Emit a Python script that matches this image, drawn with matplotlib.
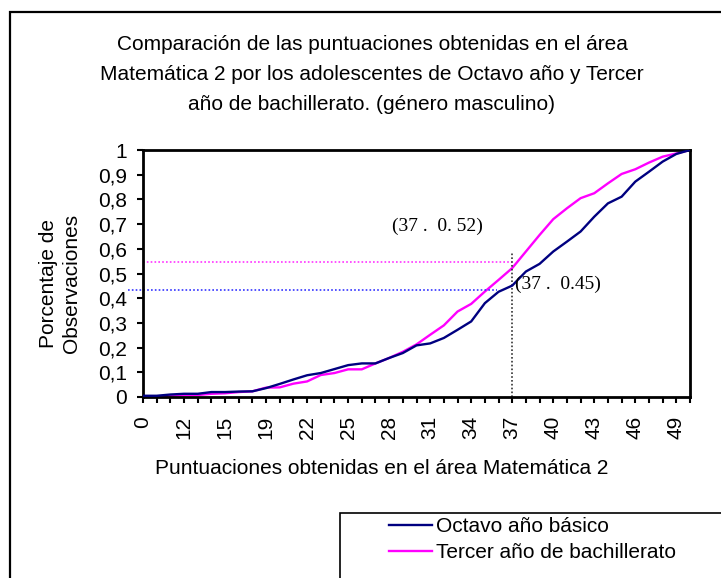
import numpy as np
import matplotlib
matplotlib.use("Agg")
import matplotlib.pyplot as plt
from matplotlib.patches import Rectangle

plt.rcParams['font.family'] = ['Liberation Sans', 'DejaVu Sans']

# Puntuaciones (categorias del eje X)
puntuaciones = [0, 10, 11, 12, 13, 14, 15, 16, 18, 19, 20, 21, 22, 23, 24, 25,
                26, 27, 28, 29, 30, 31, 32, 33, 34, 35, 36, 37, 38, 39, 40, 41,
                42, 43, 44, 45, 46, 47, 48, 49, 50]

# Porcentaje acumulado de observaciones
octavo = [0.005, 0.005, 0.010, 0.013, 0.013, 0.020, 0.020, 0.022, 0.023, 0.036,
          0.053, 0.071, 0.088, 0.097, 0.113, 0.129, 0.136, 0.136, 0.158, 0.178,
          0.209, 0.217, 0.239, 0.272, 0.306, 0.380, 0.426, 0.451, 0.508, 0.539,
          0.589, 0.629, 0.670, 0.730, 0.784, 0.811, 0.872, 0.912, 0.953, 0.984,
          1.000]
tercer = [0.000, 0.000, 0.005, 0.007, 0.008, 0.013, 0.015, 0.020, 0.023, 0.038,
          0.039, 0.054, 0.063, 0.089, 0.097, 0.112, 0.112, 0.136, 0.158, 0.183,
          0.213, 0.252, 0.290, 0.346, 0.377, 0.427, 0.474, 0.522, 0.589, 0.656,
          0.720, 0.764, 0.805, 0.825, 0.865, 0.903, 0.922, 0.949, 0.973, 0.986,
          1.000]

# Lineas de referencia en la puntuacion 37
punto_ref = 37
ref_octavo = 0.434
ref_tercer = 0.548
ref_vertical = 0.584

W, H = 721, 578
fig = plt.figure(figsize=(W / 100, H / 100), dpi=100)
ax = fig.add_axes([143 / W, 1 - 397 / H, (690 - 143) / W, (397 - 150) / H])

x = np.arange(len(puntuaciones))
ax.plot(x, octavo, color='#000080', lw=1.7, label='Octavo año básico', zorder=3)
ax.plot(x, tercer, color='#ff00ff', lw=1.7, label='Tercer año de bachillerato', zorder=2)

i_ref = puntuaciones.index(punto_ref)
ax.plot([-1.1, i_ref - 1.1], [ref_octavo, ref_octavo], color='#3333ff', lw=1.2,
        ls=(0, (1, 1.3)), clip_on=False)
ax.plot([0, i_ref], [ref_tercer, ref_tercer], color='#ff33ff', lw=1.2,
        ls=(0, (1, 1.3)), clip_on=False)
ax.plot([i_ref, i_ref], [0, ref_vertical], color='#333333', lw=1.2,
        ls=(0, (1, 1.3)))

ax.text(18.2, 0.69, '(37 .  0. 52)', family='Liberation Serif', fontsize=14,
        ha='left', va='center')
ax.text(i_ref + 0.2, 0.455, '(37 .  0.45)', family='Liberation Serif', fontsize=14,
        ha='left', va='center')

ax.set_xlim(0, len(puntuaciones) - 1)
ax.set_ylim(0, 1)
ax.set_xticks(x)
ax.set_xticklabels([str(p) if i % 3 == 0 else '' for i, p in enumerate(puntuaciones)],
                   rotation=90, fontsize=15, va='top')
yt = np.round(np.arange(0, 1.01, 0.1), 1)
ax.set_yticks(yt)
ax.set_yticklabels([('%g' % v).replace('.', ',') for v in yt], fontsize=15)
ax.tick_params(axis='x', direction='out', length=4.5, width=1.5, pad=9)
ax.tick_params(axis='y', direction='out', length=4.5, width=1.5, pad=7)
for s in ax.spines.values():
    s.set_linewidth(2)

# Titulo y etiquetas
titulo = ['Comparación de las puntuaciones obtenidas en el área',
          'Matemática 2 por los adolescentes de Octavo año y Tercer',
          'año de bachillerato. (género masculino)']
for k, linea in enumerate(titulo):
    fig.text(372 / W, 1 - (45 + 30 * k) / H, linea, fontsize=15, ha='center', va='center')

fig.text(382 / W, 1 - 468 / H, 'Puntuaciones obtenidas en el área Matemática 2',
         fontsize=15, ha='center', va='center')
fig.text(60 / W, 1 - 283 / H, 'Porcentaje de\nObservaciones', fontsize=15,
         rotation=90, ha='center', va='center', multialignment='center', linespacing=1.3)

# Marco exterior y leyenda
fig.patches.append(Rectangle((10 / W, -30 / H), 760 / W, (H - 12 + 30) / H,
                             transform=fig.transFigure, fill=False, lw=1.6,
                             edgecolor='black', clip_on=False))
fig.patches.append(Rectangle((340 / W, -30 / H), 420 / W, (H - 513 + 30) / H,
                             transform=fig.transFigure, fill=False, lw=1.2,
                             edgecolor='black', clip_on=False))
fig.legend(loc='upper left', bbox_to_anchor=(389 / W, 1 - 517 / H), frameon=False,
           fontsize=15, borderpad=0, borderaxespad=0, handlelength=2.05,
           handletextpad=0.2, labelspacing=0.35)

fig.savefig('out.png', dpi=100)
